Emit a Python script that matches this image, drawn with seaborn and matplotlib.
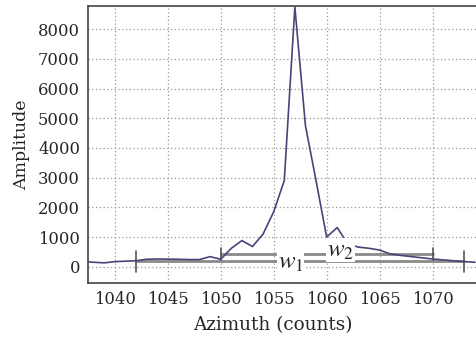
import matplotlib
matplotlib.use("Agg")
import matplotlib.pyplot as plt
import seaborn as sns
import pandas as pd

azimuth = [1037, 1038, 1039, 1040, 1041, 1042, 1043, 1044, 1045, 1046, 1047, 1048, 1049,
           1050, 1051, 1052, 1053, 1054, 1055, 1056, 1057, 1058, 1059, 1060, 1061, 1062,
           1063, 1064, 1065, 1066, 1067, 1068, 1069, 1070, 1071, 1072, 1073, 1074]
amplitude = [180, 150, 130, 170, 185, 200, 250, 260, 255, 250, 240, 240, 340,
             250, 620, 880, 680, 1100, 1850, 2900, 8750, 4750, 2900, 1000, 1320, 760,
             660, 620, 560, 430, 380, 340, 300, 260, 230, 200, 170, 150]

w1_span = [1042, 1073]
w1_level = 190
w2_span = [1050, 1070]
w2_level = 440

xticks = [1040, 1045, 1050, 1055, 1060, 1065, 1070]
yticks = [0, 1000, 2000, 3000, 4000, 5000, 6000, 7000, 8000]

sns.set_style("white")
plt.rcParams['font.family'] = ['DejaVu Serif']
plt.rcParams['mathtext.fontset'] = 'stix'

fig = plt.figure(figsize=(4.76, 3.39), dpi=100)
ax = fig.add_axes([0.1855, 0.166, 0.8145, 0.8163])

df = pd.DataFrame({"Azimuth": azimuth, "Amplitude": amplitude})

# measurement bars
bar_col = "#8a8a8a"
ax.plot(w1_span, [w1_level, w1_level], color=bar_col, lw=2.0, zorder=2)
for xv in w1_span:
    ax.plot([xv, xv], [w1_level - 370, w1_level + 330], color="#555555", lw=1.2, zorder=2)
ax.plot(w2_span, [w2_level, w2_level], color=bar_col, lw=2.0, zorder=2)
for xv in w2_span:
    ax.plot([xv, xv], [w2_level - 210, w2_level + 200], color="#555555", lw=1.2, zorder=2)

sns.lineplot(data=df, x="Azimuth", y="Amplitude", ax=ax, color="#45457a", lw=1.2, zorder=3)

ax.text(1056.6, w1_level - 40, r"$w_1$", fontsize=18, ha="center", va="center",
        bbox=dict(facecolor="white", edgecolor="none", pad=0.5), zorder=4)
ax.text(1061.3, w2_level + 120, r"$w_2$", fontsize=18, ha="center", va="center",
        bbox=dict(facecolor="white", edgecolor="none", pad=0.5), zorder=4)

ax.set_xlim(1037.5, 1074.1)
ax.set_ylim(-540, 8785)
ax.set_xticks(xticks)
ax.set_yticks(yticks)
ax.set_xticklabels([str(t) for t in xticks])
ax.set_yticklabels([str(t) for t in yticks])
ax.grid(True, linestyle=(0, (1, 2)), color="#9a9a9a", lw=0.9)
ax.tick_params(direction="in", length=4, labelsize=11.8, color="#555555", pad=6)
for side in ["left", "bottom", "top"]:
    ax.spines[side].set_color("#444444")
    ax.spines[side].set_linewidth(1.2)
ax.spines["right"].set_visible(False)

ax.set_xlabel("Azimuth (counts)", fontsize=13.2, va="center")
ax.xaxis.set_label_coords(0.476, -0.153)
ax.set_ylabel("Amplitude", fontsize=12.5, labelpad=6)

fig.savefig("out.png", dpi=100)
